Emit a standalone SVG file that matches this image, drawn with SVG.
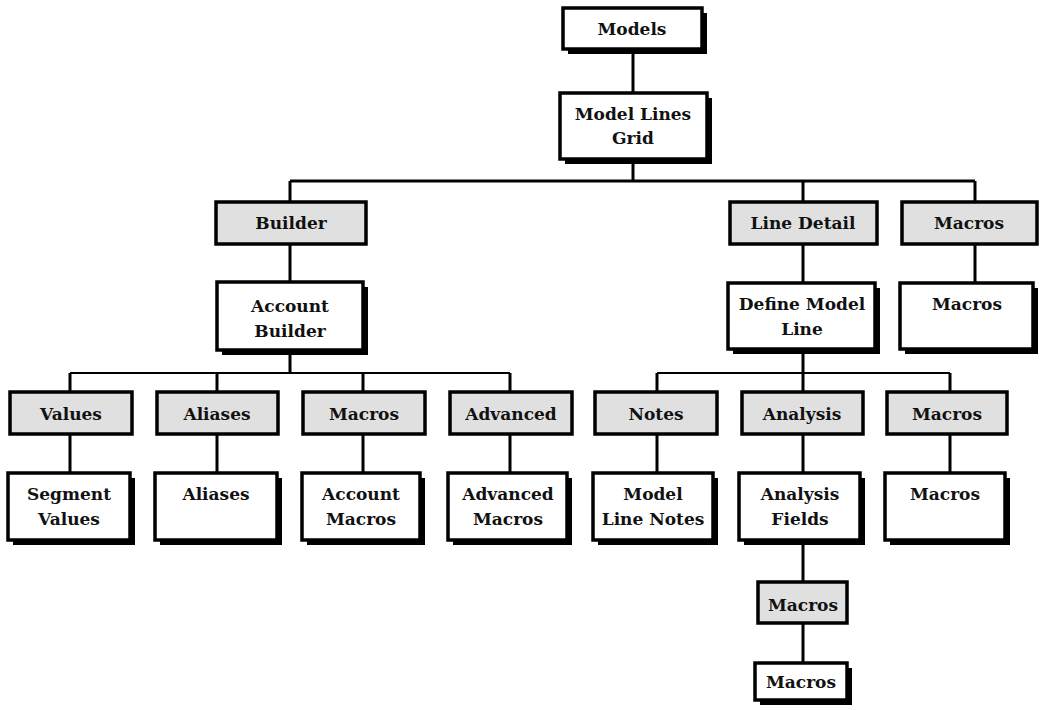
<svg xmlns="http://www.w3.org/2000/svg" width="1040" height="710" viewBox="0 0 1040 710">
<defs>
<style>
.sh{fill:#000}
.w{fill:#fff;stroke:#000;stroke-width:3.5}
.g{fill:#e0e0e0;stroke:#000;stroke-width:3.5}
text{font-family:"DejaVu Serif","Liberation Serif",serif;font-weight:bold;font-size:17px;text-anchor:middle;fill:#111}
.c path{stroke:#000;stroke-width:3;fill:none}
.c path.t{stroke-width:2}
</style>
</defs>
<rect width="1040" height="710" fill="#fff"/>
<g class="c" id="connectors">
<path d="M633 53V93"/>
<path d="M633 164V181"/>
<path d="M290 181H975"/>
<path d="M290 181V202M803 181V202M975 181V202"/>
<path d="M290 244V282M803 244V283M975 244V283"/>
<path d="M290 355V373M803 354V373"/>
<path class="t" d="M70 373H510M657 373H950"/>
<path d="M70 373V392M217 373V392M363 373V392M510 373V392M657 373V392M803 373V392M950 373V392"/>
<path d="M70 434V473M217 434V473M363 434V473M510 434V473M657 434V473M803 434V473M950 434V473"/>
<path d="M803 545V582M803 623V663"/>
</g>
<g id="n-models"><rect class="sh" x="568" y="13" width="139" height="41"/><rect class="w" x="563" y="8" width="139" height="41"/><text x="632" y="35">Models</text></g>
<g id="n-grid"><rect class="sh" x="565" y="98" width="147" height="66"/><rect class="w" x="560" y="93" width="147" height="66"/><text x="633" y="120">Model Lines</text><text x="633" y="144">Grid</text></g>
<g id="n-builder"><rect class="g" x="216" y="202" width="150" height="42"/><text x="291" y="229">Builder</text></g>
<g id="n-linedetail"><rect class="g" x="730" y="202" width="147" height="42"/><text x="803" y="229">Line Detail</text></g>
<g id="n-macros1"><rect class="g" x="902" y="202" width="135" height="42"/><text x="969" y="229">Macros</text></g>
<g id="n-accbuilder"><rect class="sh" x="222" y="287" width="146" height="68"/><rect class="w" x="217" y="282" width="146" height="68"/><text x="290" y="312">Account</text><text x="290" y="337">Builder</text></g>
<g id="n-defline"><rect class="sh" x="733" y="288" width="147" height="66"/><rect class="w" x="728" y="283" width="147" height="66"/><text x="802" y="310">Define Model</text><text x="802" y="335">Line</text></g>
<g id="n-macros1w"><rect class="sh" x="905" y="288" width="133" height="66"/><rect class="w" x="900" y="283" width="133" height="66"/><text x="967" y="310">Macros</text></g>
<g id="n-values"><rect class="g" x="10" y="392" width="122" height="42"/><text x="71" y="420">Values</text></g>
<g id="n-aliases"><rect class="g" x="157" y="392" width="121" height="42"/><text x="217" y="420">Aliases</text></g>
<g id="n-macros2"><rect class="g" x="303" y="392" width="122" height="42"/><text x="364" y="420">Macros</text></g>
<g id="n-advanced"><rect class="g" x="450" y="392" width="122" height="42"/><text x="511" y="420">Advanced</text></g>
<g id="n-notes"><rect class="g" x="595" y="392" width="122" height="42"/><text x="656" y="420">Notes</text></g>
<g id="n-analysis"><rect class="g" x="742" y="392" width="121" height="42"/><text x="802" y="420">Analysis</text></g>
<g id="n-macros3"><rect class="g" x="887" y="392" width="120" height="42"/><text x="947" y="420">Macros</text></g>
<g id="n-segvalues"><rect class="sh" x="13" y="478" width="122" height="67"/><rect class="w" x="8" y="473" width="122" height="67"/><text x="69" y="500">Segment</text><text x="69" y="525">Values</text></g>
<g id="n-aliasesw"><rect class="sh" x="160" y="478" width="122" height="67"/><rect class="w" x="155" y="473" width="122" height="67"/><text x="216" y="500">Aliases</text></g>
<g id="n-accmacros"><rect class="sh" x="307" y="478" width="118" height="67"/><rect class="w" x="302" y="473" width="118" height="67"/><text x="361" y="500">Account</text><text x="361" y="525">Macros</text></g>
<g id="n-advmacros"><rect class="sh" x="453" y="478" width="119" height="67"/><rect class="w" x="448" y="473" width="119" height="67"/><text x="508" y="500">Advanced</text><text x="508" y="525">Macros</text></g>
<g id="n-linenotes"><rect class="sh" x="598" y="478" width="120" height="67"/><rect class="w" x="593" y="473" width="120" height="67"/><text x="653" y="500">Model</text><text x="653" y="525">Line Notes</text></g>
<g id="n-analysisfields"><rect class="sh" x="744" y="478" width="121" height="67"/><rect class="w" x="739" y="473" width="121" height="67"/><text x="800" y="500">Analysis</text><text x="800" y="525">Fields</text></g>
<g id="n-macros3w"><rect class="sh" x="890" y="478" width="120" height="67"/><rect class="w" x="885" y="473" width="120" height="67"/><text x="945" y="500">Macros</text></g>
<g id="n-macros4"><rect class="g" x="758" y="582" width="89" height="41"/><text x="803" y="611">Macros</text></g>
<g id="n-macros4w"><rect class="sh" x="760" y="668" width="92" height="37"/><rect class="w" x="755" y="663" width="92" height="37"/><text x="801" y="688">Macros</text></g>
</svg>
